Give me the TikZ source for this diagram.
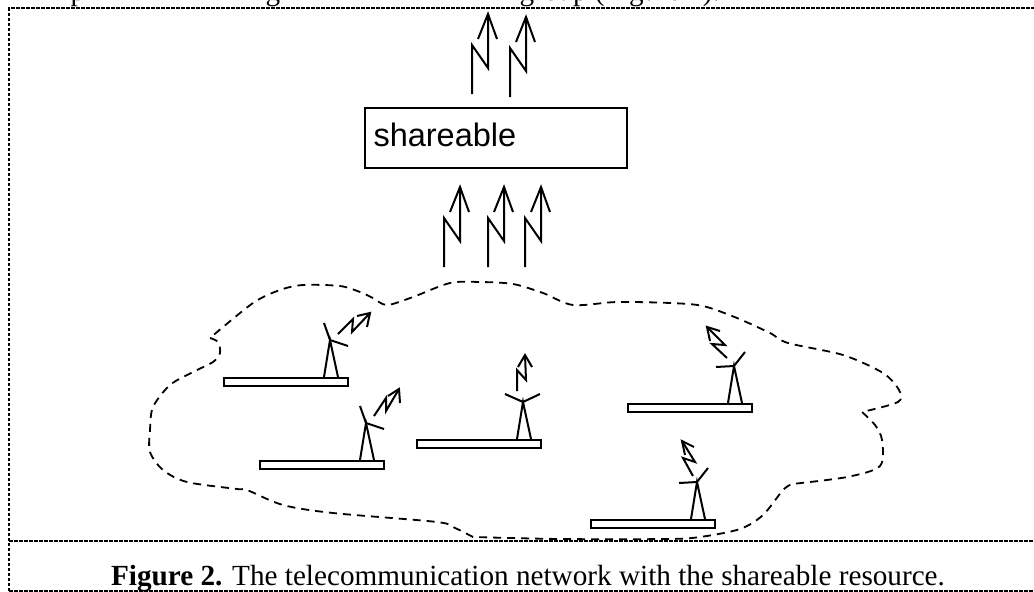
\documentclass[tikz,border=0pt]{standalone}
\usepackage{fontspec}
\setmainfont{Liberation Serif}
\setsansfont{Liberation Sans}
\tikzset{
	framedash/.style={line width=1.3pt,dash pattern=on 3.5pt off 1.5pt},
	clouddash/.style={line width=1.8pt,dash pattern=on 8pt off 6pt},
	bolt/.style={line width=2pt,line join=miter},
	platform/.style={draw,line width=2pt,fill=white,minimum width=124pt,minimum height=8pt,inner sep=0pt},
	resourcebox/.style={draw,line width=2pt,minimum width=262pt,minimum height=60pt,inner sep=0pt},
	captiontext/.style={font=\fontsize{29.2}{29}\selectfont,anchor=base},
}
% big zigzag arrow from its lower end
\newcommand{\zigzag}[2]{
	\begin{scope}[shift={(#1,#2)}]
		\draw[bolt] (0,0) -- (0,-49) -- (16,-26) -- (16,-80);
		\draw[bolt] (6,-55) -- (16,-80) -- (25,-55);
	\end{scope}
}
% station: x, y, name, two arms, zigzag, arrow barbs
\newcommand{\station}[7]{
	\begin{scope}[shift={(#1,#2)}]
		\node[platform,anchor=north west] (#3) at (0,0) {};
		\coordinate (#3top) at (107,-37);
		\draw[bolt] (101,0) -- (#3top) -- (115,0);
		\draw[bolt] #4 -- (#3top) -- #5;
		\draw[bolt] #6;
		\draw[bolt] #7;
	\end{scope}
}
\begin{document}
\begin{tikzpicture}[x=1pt,y=-1pt]
	\useasboundingbox (0,0) rectangle (1034,592);
	% line above the frame
	\node[captiontext,anchor=base west] (topleft) at (67,0.5) {p};
	\node[captiontext,anchor=base west] (topmid) at (262,0.5) {g};
	\node[captiontext,anchor=base west] (topline) at (516,0.5) {group (Figure 2).};
	% frame
	\draw[framedash,line width=2pt] (9,591) -- (9,8) -- (1034,8);
	\draw[framedash] (9,541) -- (1034,541);
	\draw[framedash] (9,591) -- (1034,591);
	% caption
	\node[captiontext] (caption) at (528,585) {\textbf{Figure 2.} The telecommunication network with the shareable resource.};
	% shareable
	\node[resourcebox] (resource) at (496,138) {};
	\node[font=\sffamily\fontsize{32.5}{33}\selectfont,anchor=base west] (resourcelabel) at (370,146) {shareable};
	% arrows
	\zigzag{472}{94}
	\zigzag{510}{97}
	\zigzag{444}{267}
	\zigzag{488}{267}
	\zigzag{525}{267}
	% cloud
	\draw[clouddash] (210,338)
		-- plot[smooth,tension=0.5] coordinates {(210,338) (218,342) (220,353) (213,362) (193,372) (170,385) (153,407) (150,430) (150,452) (163,470) (187,482) (237,489) (247,490) (283,505) (333,513) (437,522) (455,528) (473,537)}
		-- plot[smooth,tension=0.5] coordinates {(473,537) (560,539) (667,539) (700,537) (740,529) (763,515) (783,490) (792,484)}
		-- plot[smooth,tension=0.5] coordinates {(792,484) (847,477) (880,466) (882,440) (875,425) (862,412)}
		-- plot[smooth,tension=0.5] coordinates {(862,412) (898,402) (899,390) (883,373) (843,355) (788,343) (770,333) (737,318) (703,306) (670,303) (617,302) (573,305) (543,293) (513,284) (480,282) (450,283) (413,297) (387,305) (373,298) (360,292) (340,286) (303,285) (280,290) (253,303) (210,338)};
	% stations
	\station{223}{377}{stationa}{(101,-54)}{(125,-31)}{(115,-43) -- (130,-58) -- (129,-45) -- (147,-64)}{(134,-61) -- (147,-64) -- (144,-50)}
	\station{259}{460}{stationb}{(101,-54)}{(125,-31)}{(115,-44) -- (127,-62) -- (127,-49) -- (140,-71)}{(129,-64) -- (140,-71) -- (141,-57)}
	\station{416}{439}{stationc}{(89,-45)}{(124,-45)}{(101,-48) -- (101,-69) -- (110,-59) -- (109,-84)}{(102,-72) -- (109,-84) -- (116,-72)}
	\station{627}{403}{stationd}{(89,-36)}{(118,-51)}{(100,-45) -- (85,-59) -- (98,-58) -- (80,-76)}{(93,-72) -- (80,-76) -- (83,-62)}
	\station{590}{519}{statione}{(89,-36)}{(118,-51)}{(103,-43) -- (93,-61) -- (105,-57) -- (92,-78)}{(104,-72) -- (92,-78) -- (95,-64)}
\end{tikzpicture}
\end{document}
